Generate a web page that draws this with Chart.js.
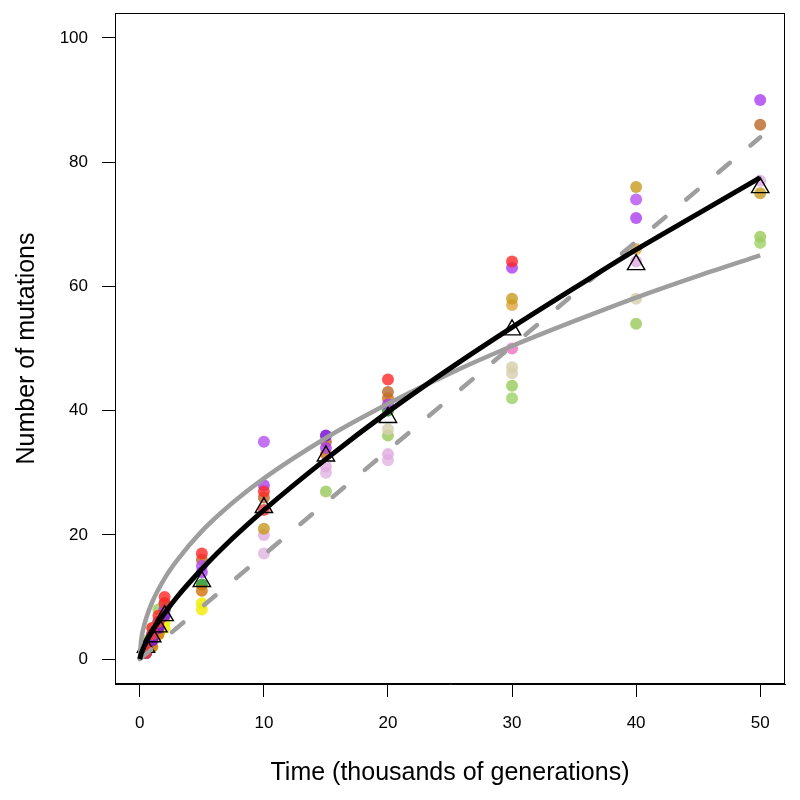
<!DOCTYPE html>
<html>
<head>
<meta charset="utf-8">
<script src="https://cdn.jsdelivr.net/npm/chart.js@4"></script>
<style>
  html, body { margin: 0; padding: 0; background: #fff; }
  #wrap { width: 800px; height: 800px; }
</style>
</head>
<body>
<div id="wrap"><canvas id="mutChart"></canvas></div>
<script>
// sampling times (thousands of generations)
const times = [0.5, 1, 1.5, 2, 5, 10, 15, 20, 30, 40, 50];

// mutation counts per population, null = not sequenced / not visible
const popRed        = [2, 5, 7, 10, 17, 27, null, 45, 64, null, null];
const popTomato     = [1, 4, 6, 9, null, 24, null, null, null, null, null];
const popPurple     = [2, 4, 6, 8, 14, 28, 34, 41, 63, 71, 90];
const popOrchid     = [null, null, null, null, 15, 35, null, null, null, 74, null];
const popViolet     = [1, 3, 5, 7, null, null, 36, null, null, null, null];
const popPeru       = [1, 3, 5, 9, 16, 26, 35, 43, null, null, 86];
const popOrange     = [1, 2, 4, 8, 11, null, 33, 42, null, null, null];
const popGold       = [null, null, null, null, null, 21, null, null, 58, 76, 75];
const popGold2      = [null, null, null, null, null, null, null, null, 57, 66, null];
const popPlum       = [null, null, null, null, null, 20, 31, 33, null, 64, 77];
const popThistle    = [null, null, null, null, null, 17, 30, 32, null, null, null];
const popPink       = [null, null, null, null, null, null, null, null, 50, null, null];
const popTan        = [null, null, null, null, null, null, null, 37, 47, 58, null];
const popTan2       = [null, null, null, null, null, null, null, null, 46, null, null];
const popLime       = [3, 5, 8, 9, null, null, 27, 36, 44, 54, 68];
const popLime2      = [null, null, null, null, null, null, null, null, 42, null, 67];
const popGreen      = [2, 4, 6, 8, 12, null, null, 40, null, null, null];
const popYellow     = [1, 2, 4, 6, 9, null, null, null, null, null, null];
const popYellow2    = [1, 3, 4, 5, 8, null, null, null, null, null, null];

// mean over populations (open triangles)
const meanCounts = [1.9, 3.6, 5.2, 7.0, 12.5, 24.4, 32.7, 38.9, 53.0, 63.5, 75.9];

// fitted curves
const curveX   = [0, 0.1, 0.25, 0.5, 1, 2, 3, 5, 7.5, 10, 15, 20, 25, 30, 35, 40, 45, 50];
const powerFit = [0, 0.8, 1.6, 2.7, 4.5, 7.4, 10, 14.5, 19.5, 24, 32.2, 39.8, 46.8, 53.4, 59.7, 65.9, 71.7, 77.5];
const sqrtFit  = [0, 2.9, 4.6, 6.5, 9.2, 13, 15.9, 20.6, 25.2, 29.1, 35.6, 41.1, 46, 50.4, 54.4, 58.2, 61.7, 65];
const linearX  = [0, 50];
const linearFit = [0, 84];

const xTicks = [0, 10, 20, 30, 40, 50];
const yTicks = [0, 20, 40, 60, 80, 100];

const populations = [
    [popRed, 'rgba(255, 40, 40, 0.8)'],
    [popTomato, 'rgba(240, 60, 50, 0.8)'],
    [popPurple, 'rgba(170, 60, 240, 0.8)'],
    [popOrchid, 'rgba(180, 80, 240, 0.8)'],
    [popViolet, 'rgba(120, 20, 215, 0.85)'],
    [popPeru, 'rgba(190, 110, 50, 0.85)'],
    [popOrange, 'rgba(215, 120, 20, 0.85)'],
    [popGold, 'rgba(200, 155, 30, 0.8)'],
    [popGold2, 'rgba(225, 170, 70, 0.85)'],
    [popPlum, 'rgba(225, 170, 225, 0.8)'],
    [popThistle, 'rgba(225, 180, 225, 0.8)'],
    [popPink, 'rgba(240, 120, 195, 0.85)'],
    [popTan, 'rgba(215, 208, 175, 0.85)'],
    [popTan2, 'rgba(215, 210, 180, 0.85)'],
    [popLime, 'rgba(160, 205, 100, 0.85)'],
    [popLime2, 'rgba(165, 210, 110, 0.85)'],
    [popGreen, 'rgba(40, 150, 40, 0.85)'],
    [popYellow, 'rgba(240, 240, 20, 0.9)'],
    [popYellow2, 'rgba(245, 235, 30, 0.9)']
];

function toPoints(xs, ys) {
    const out = [];
    xs.forEach((x, i) => {
        if (ys[i] !== null) out.push({ x: x, y: ys[i] });
    });
    return out;
}

const GRAY = '#9e9e9e';
const FONT = "'Liberation Sans', Arial, Helvetica, sans-serif";

// datasets listed first are drawn on top
const datasets = [
    {
        label: 'power',
        data: toPoints(curveX, powerFit),
        showLine: true,
        borderColor: '#000',
        borderWidth: 5,
        pointRadius: 0,
        cubicInterpolationMode: 'monotone'
    },
    {
        label: 'linear',
        data: toPoints(linearX, linearFit),
        showLine: true,
        borderColor: GRAY,
        borderWidth: 4.5,
        borderDash: [15, 27],
        borderCapStyle: 'round',
        pointRadius: 0
    },
    {
        label: 'sqrt',
        data: toPoints(curveX, sqrtFit),
        showLine: true,
        borderColor: GRAY,
        borderWidth: 4.5,
        pointRadius: 0,
        cubicInterpolationMode: 'monotone'
    },
    {
        label: 'mean',
        data: toPoints(times, meanCounts),
        pointStyle: 'triangle',
        pointRadius: 10,
        borderColor: '#000',
        borderWidth: 1.4,
        backgroundColor: 'rgba(0,0,0,0)'
    }
];

populations.forEach(([vals, col], i) => {
    datasets.push({
        label: 'pop' + i,
        data: toPoints(times, vals),
        pointRadius: 6,
        borderWidth: 0,
        backgroundColor: col,
        borderColor: col
    });
});

// full box around the plotting region
const boxPlugin = {
    id: 'box',
    afterDraw(chart) {
        const { ctx, chartArea } = chart;
        ctx.save();
        ctx.strokeStyle = '#000';
        ctx.lineWidth = 1;
        ctx.strokeRect(chartArea.left + 0.5, chartArea.top + 0.5,
            chartArea.right - chartArea.left - 1, chartArea.bottom - chartArea.top - 1);
        ctx.restore();
    }
};

const ctx = document.getElementById('mutChart').getContext('2d');
new Chart(ctx, {
    type: 'scatter',
    data: { datasets: datasets },
    plugins: [boxPlugin],
    options: {
        responsive: true,
        maintainAspectRatio: false,
        animation: false,
        layout: { padding: { top: 13, right: 15, left: 0, bottom: 0 } },
        plugins: {
            legend: { display: false },
            tooltip: { enabled: false }
        },
        scales: {
            x: {
                type: 'linear',
                min: -2,
                max: 52,
                afterFit(scale) {
                    scale.height = 116;
                    scale.paddingLeft = 0;
                    scale.paddingRight = 0;
                },
                afterBuildTicks(scale) { scale.ticks = xTicks.map(v => ({ value: v })); },
                grid: { drawOnChartArea: false, drawTicks: true, tickLength: 13, color: '#000', lineWidth: 1 },
                border: { display: true, color: '#000', width: 1 },
                ticks: {
                    padding: 16,
                    color: '#000',
                    maxRotation: 0,
                    font: { family: FONT, size: 17 }
                },
                title: {
                    display: true,
                    text: 'Time (thousands of generations)',
                    color: '#000',
                    font: { family: FONT, size: 25 },
                    padding: { top: 0, bottom: 12 }
                }
            },
            y: {
                type: 'linear',
                min: -4,
                max: 104,
                afterFit(scale) {
                    scale.width = 115;
                    scale.paddingTop = 0;
                    scale.paddingBottom = 0;
                },
                afterBuildTicks(scale) { scale.ticks = yTicks.map(v => ({ value: v })); },
                grid: { drawOnChartArea: false, drawTicks: true, tickLength: 13, color: '#000', lineWidth: 1 },
                border: { display: true, color: '#000', width: 1 },
                ticks: {
                    padding: 14,
                    color: '#000',
                    font: { family: FONT, size: 17 }
                },
                title: {
                    display: true,
                    text: 'Number of mutations',
                    color: '#000',
                    font: { family: FONT, size: 25 },
                    padding: { top: 12, bottom: 0 }
                }
            }
        }
    }
});
</script>
</body>
</html>
